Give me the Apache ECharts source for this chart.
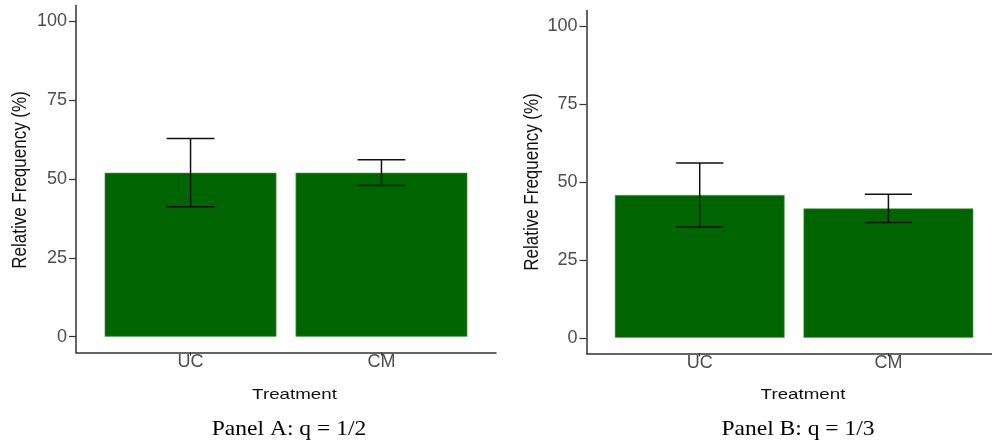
<!DOCTYPE html>
<html>
<head>
<meta charset="utf-8">
<script src="https://cdn.jsdelivr.net/npm/echarts@6/dist/echarts.min.js"></script>
<style>
html,body{margin:0;padding:0;background:#fff;}
#chart{width:992px;height:445px;}
</style>
</head>
<body>
<div id="chart"></div>
<script>
const categories = ['UC', 'CM'];
const panelAMean = [52.0, 52.0];
const panelAErr = [10.8, 4.1];
const panelBMean = [45.8, 41.5];
const panelBErr = [10.3, 4.5];
const yTicks = [0, 25, 50, 75, 100];
const panelTitles = ['Panel A: q = 1/2', 'Panel B: q = 1/3'];
const yTitle = 'Relative Frequency (%)';
const xTitle = 'Treatment';

const chart = echarts.init(document.getElementById('chart'), null, {renderer: 'canvas'});

const grids = [
  {left: 76, top: 5.5, width: 420, height: 347},
  {left: 586.5, top: 10.4, width: 405.5, height: 343}
];
const xMax = [2.6, 2.549];

function xAxisFor(i) {
  return {
    type: 'value', gridIndex: i, min: 0.4, max: xMax[i],
    splitLine: {show: false},
    axisLine: {show: true, onZero: false, lineStyle: {color: '#333', width: 1.5}},
    axisTick: {show: true, customValues: categories.map((c, k) => k + 1), length: 3, lineStyle: {color: '#333', width: 1.2}},
    axisLabel: {
      customValues: categories.map((c, k) => k + 1),
      formatter: v => categories[Math.round(v) - 1] || '',
      color: '#4d4d4d', fontSize: 18, fontFamily: 'Liberation Sans, Arial, sans-serif', margin: 1
    }
  };
}
function yAxisFor(i) {
  return {
    type: 'value', gridIndex: i, min: -5, max: 105,
    splitLine: {show: false},
    axisLine: {show: true, onZero: false, lineStyle: {color: '#333', width: 1.5}},
    axisTick: {show: true, customValues: yTicks, length: 7, lineStyle: {color: '#333', width: 1.2}},
    axisLabel: {
      customValues: yTicks,
      color: '#4d4d4d', fontSize: 18, fontFamily: 'Liberation Sans, Arial, sans-serif', margin: 9
    }
  };
}

function errRender(params, api) {
  const x = api.value(0), lo = api.value(1), hi = api.value(2);
  const pLo = api.coord([x, lo]);
  const pHi = api.coord([x, hi]);
  const hw = api.size([0.125, 0])[0];
  const style = {stroke: '#111', lineWidth: 1.5};
  return {
    type: 'group',
    children: [
      {type: 'line', shape: {x1: pLo[0], y1: pLo[1], x2: pHi[0], y2: pHi[1]}, style},
      {type: 'line', shape: {x1: pHi[0] - hw, y1: pHi[1], x2: pHi[0] + hw, y2: pHi[1]}, style},
      {type: 'line', shape: {x1: pLo[0] - hw, y1: pLo[1], x2: pLo[0] + hw, y2: pLo[1]}, style}
    ]
  };
}

const means = [panelAMean, panelBMean];
const errs = [panelAErr, panelBErr];
const series = [];
[0, 1].forEach(i => {
  series.push({
    type: 'bar', xAxisIndex: i, yAxisIndex: i,
    data: categories.map((c, k) => [k + 1, means[i][k]]),
    barWidth: '90%',
    itemStyle: {color: '#006400', borderColor: '#5f9f5f', borderWidth: 0.6},
    silent: true
  });
  series.push({
    type: 'custom', xAxisIndex: i, yAxisIndex: i,
    renderItem: errRender,
    encode: {x: 0, y: [1, 2]},
    data: categories.map((c, k) => [k + 1, means[i][k] - errs[i][k], means[i][k] + errs[i][k]]),
    z: 5, silent: true
  });
});

const sansFont = 'Liberation Sans, Arial, sans-serif';
const serifFont = 'Liberation Serif, DejaVu Serif, serif';
function yTitleText(x, y) {
  return {type: 'text', x: x, y: y, rotation: Math.PI / 2, scaleY: 1.18,
    style: {text: yTitle, align: 'center', verticalAlign: 'middle', fontSize: 17, fontFamily: sansFont, fill: '#111'}};
}
function xTitleText(x, y) {
  return {type: 'text', x: x, y: y, scaleX: 1.25,
    style: {text: xTitle, align: 'center', verticalAlign: 'middle', fontSize: 15, fontFamily: sansFont, fill: '#111'}};
}
function panelText(x, y, t) {
  return {type: 'text', x: x, y: y, scaleX: 1.07,
    style: {text: t, align: 'center', verticalAlign: 'middle', fontSize: 22, fontFamily: serifFont, fill: '#000'}};
}
const graphic = [
  yTitleText(20, 180),
  yTitleText(532, 182),
  xTitleText(294.5, 395),
  xTitleText(803, 395),
  panelText(289, 429, panelTitles[0]),
  panelText(798, 429, panelTitles[1])
];

chart.setOption({
  animation: false,
  backgroundColor: '#fff',
  grid: grids,
  xAxis: [xAxisFor(0), xAxisFor(1)],
  yAxis: [yAxisFor(0), yAxisFor(1)],
  series: series,
  graphic: graphic
});
</script>
</body>
</html>
